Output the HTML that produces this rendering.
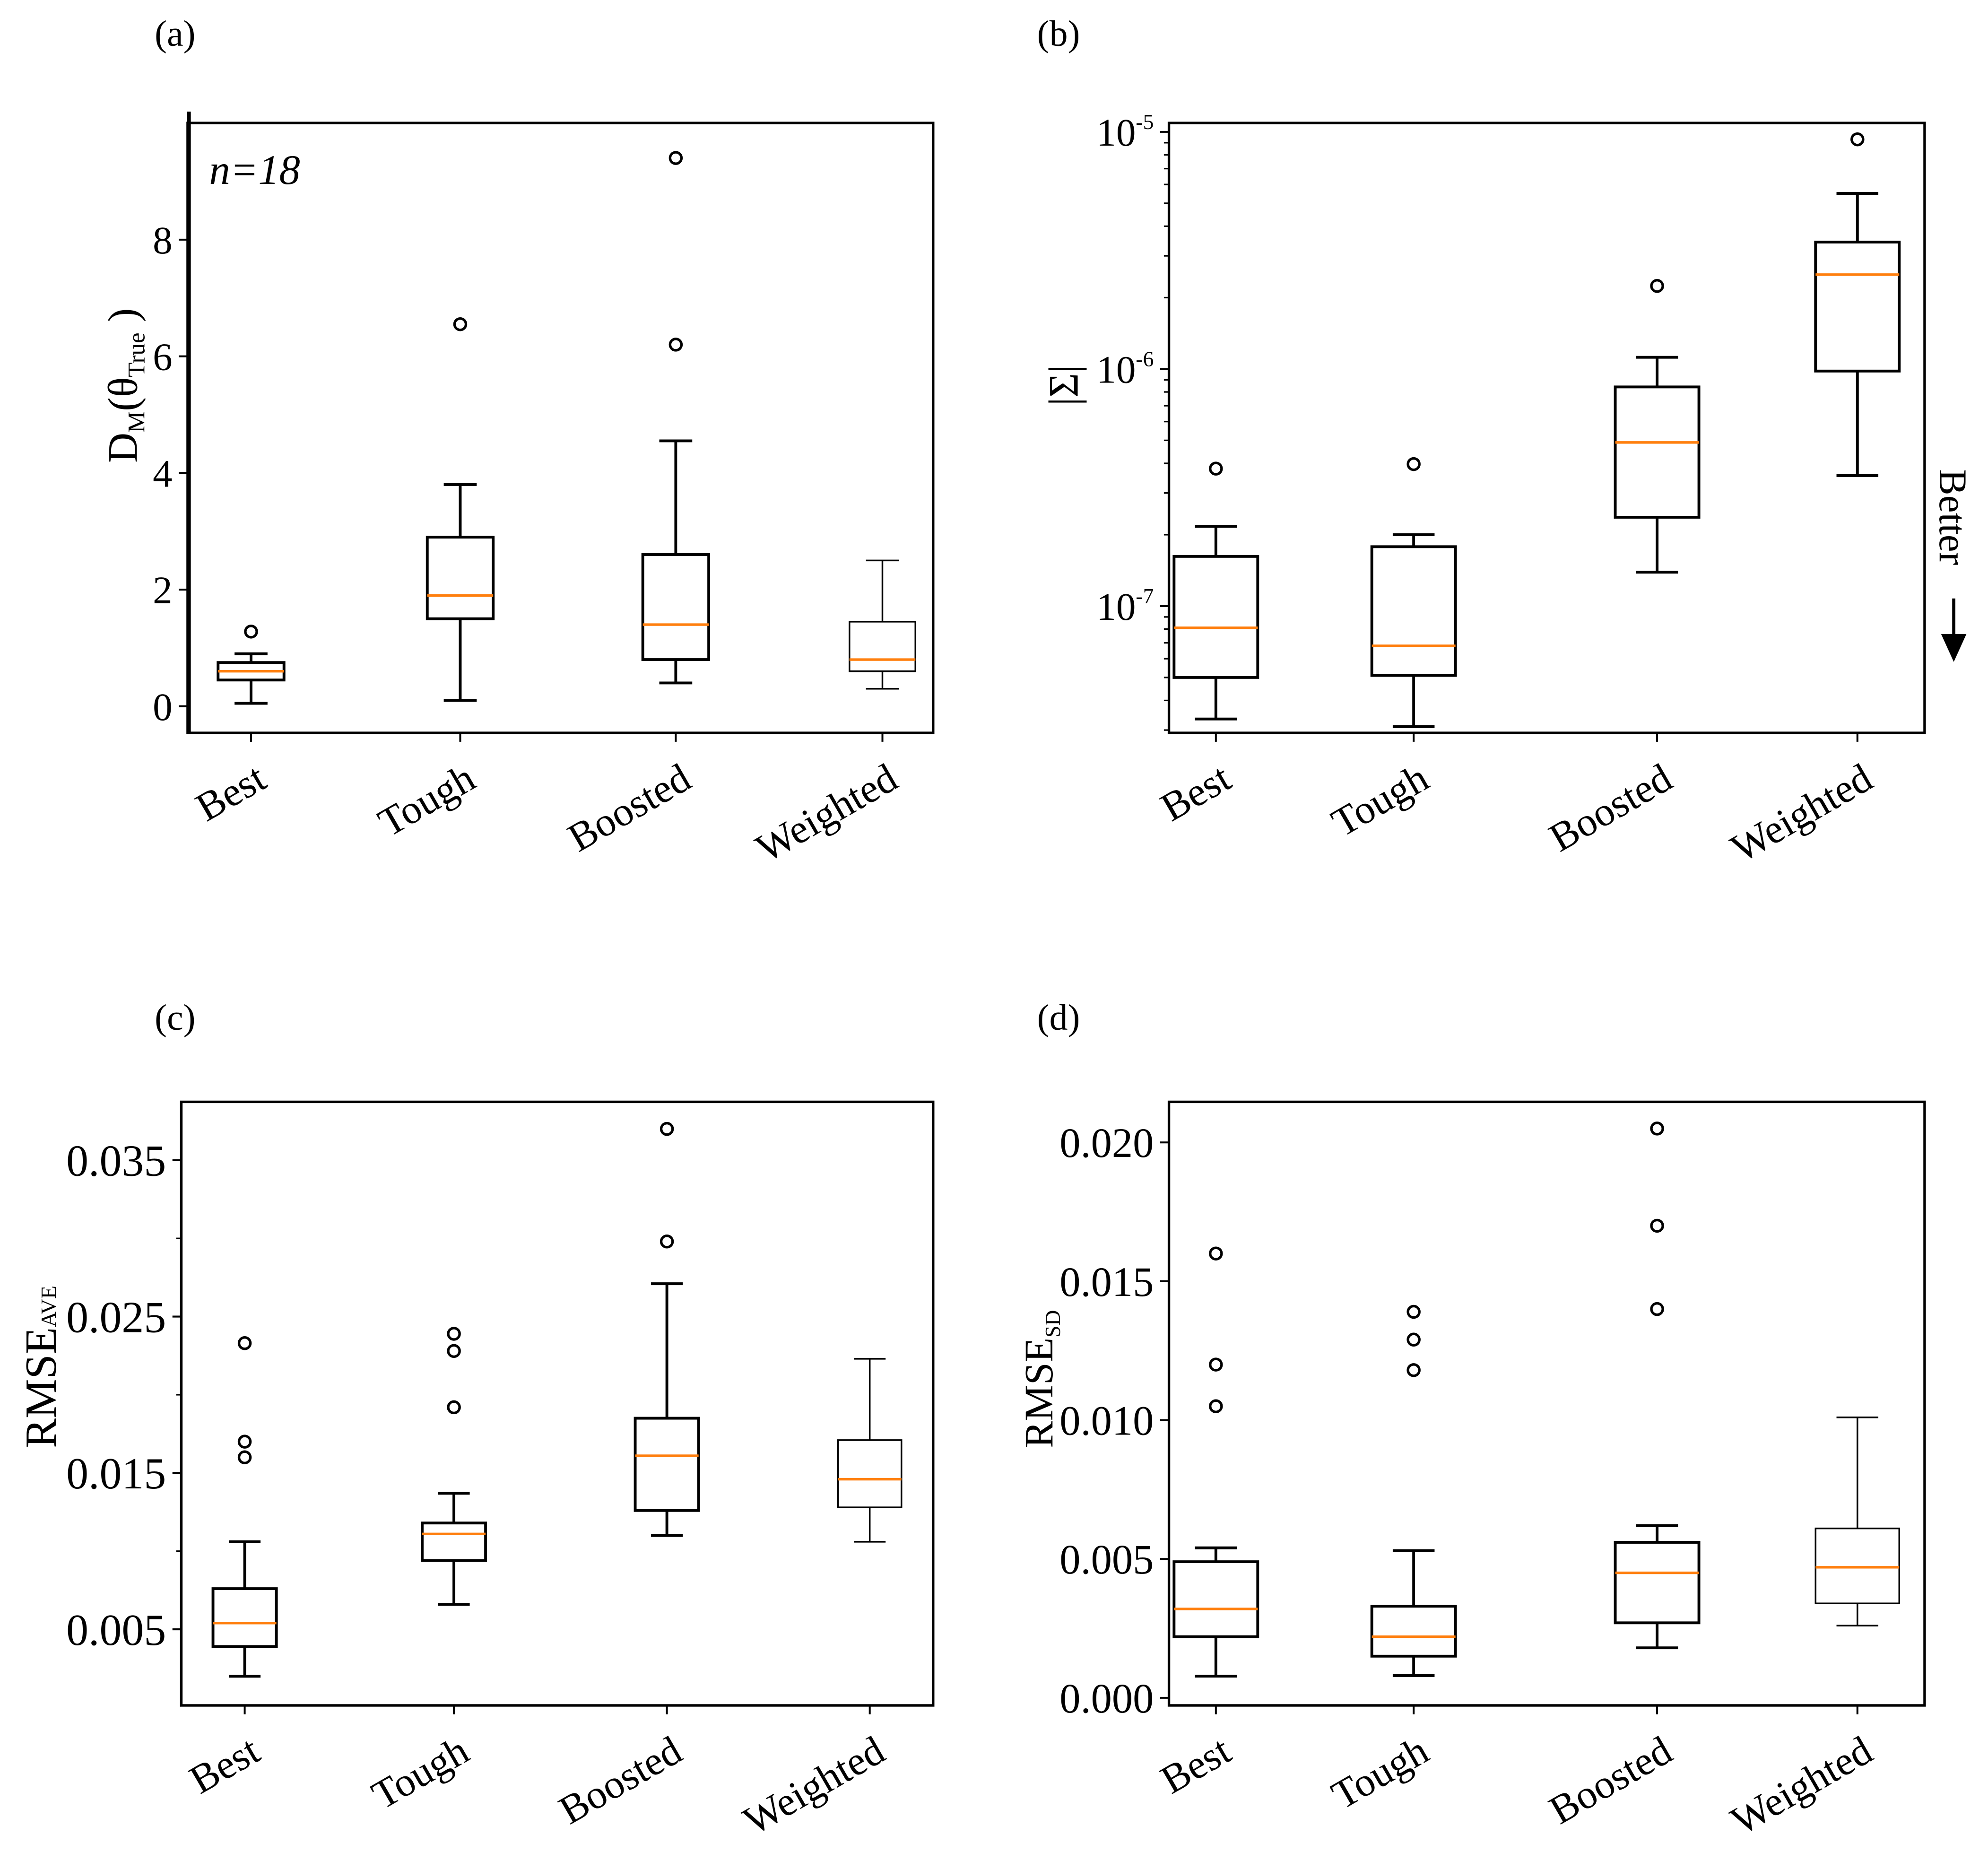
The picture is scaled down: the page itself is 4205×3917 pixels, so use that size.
<!DOCTYPE html>
<html><head><meta charset="utf-8"><style>
html,body{margin:0;padding:0;background:#fff}
svg{display:block}
text{font-family:"Liberation Serif",serif;fill:#000}
</style></head><body>
<svg id="fig" width="4205" height="3917" viewBox="0 0 1568 1460.6" xmlns="http://www.w3.org/2000/svg">
<rect width="1568" height="1461" fill="#fff"/>
</svg>
<script>
const categories = ["Best","Tough","Boosted","Weighted"];
// [low whisker, q1, median, q3, high whisker]
const statsA = [[0.05,0.45,0.6,0.75,0.9],[0.1,1.5,1.9,2.9,3.8],[0.4,0.8,1.4,2.6,4.55],[0.3,0.6,0.8,1.45,2.5]];
const outliersA = [[1.28],[6.55],[6.2,9.4],[]];
const statsB = [[3.34e-8,5.0e-8,8.1e-8,1.62e-7,2.17e-7],[3.1e-8,5.1e-8,6.8e-8,1.78e-7,2.0e-7],[1.39e-7,2.37e-7,4.9e-7,8.4e-7,1.12e-6],[3.55e-7,9.8e-7,2.5e-6,3.43e-6,5.5e-6]];
const outliersB = [[3.8e-7],[3.97e-7],[2.24e-6],[9.3e-6]];
const statsC = [[0.002,0.0039,0.0054,0.0076,0.0106],[0.0066,0.0094,0.0111,0.0118,0.0137],[0.011,0.0126,0.0161,0.0185,0.0271],[0.0106,0.0128,0.0146,0.0171,0.0223]];
const outliersC = [[0.0233,0.017,0.016],[0.0239,0.0228,0.0192],[0.037,0.0298],[]];
const statsD = [[0.00078,0.0022,0.0032,0.0049,0.0054],[0.0008,0.0015,0.0022,0.0033,0.0053],[0.0018,0.0027,0.0045,0.0056,0.0062],[0.0026,0.0034,0.0047,0.0061,0.0101]];
const outliersD = [[0.016,0.012,0.0105],[0.0139,0.0129,0.0118],[0.0205,0.017,0.014],[]];
const ticksA = [0,2,4,6,8];
const ticksC = [0.005,0.015,0.025,0.035];
const ticksD = [0,0.005,0.01,0.015,0.02];
const ticksDLabels = ["0.000","0.005","0.010","0.015","0.020"];

const svg = document.getElementById('fig');
const NS = "http://www.w3.org/2000/svg";
function mk(tag, attrs, parent){const e=document.createElementNS(NS,tag);for(const k in attrs)e.setAttribute(k,attrs[k]);(parent||svg).appendChild(e);return e;}

function panel(cfg){
  const g = mk('g',{});
  
  
  const {x0,x1,y0,y1,xs,yScale,bw,stats,outs,thinLast} = cfg;
  const fs=cfg.tickFont||30;
  cfg.ticks.forEach((t,i)=>{
    const y=yScale(t);
    const tk=mk('line',{x1:x0-7,x2:x0,y1:y,y2:y,stroke:'#000','stroke-width':1.5},g);
    
    
    const tx=mk('text',{x:x0-12,y:y+fs*0.35,'text-anchor':'end','font-size':fs},g);
    
    
    if(cfg.tickHTML){tx.innerHTML=cfg.tickHTML[i];} else tx.textContent=cfg.tickLabels?cfg.tickLabels[i]:t;
  });
  (cfg.minor||[]).forEach(t=>{const y=yScale(t);mk('line',{x1:x0-4,x2:x0,y1:y,y2:y,stroke:'#000','stroke-width':1.2},g);});
  stats.forEach((s,i)=>{
    const cx=xs[i], sw=(thinLast&&i===3)?1.3:2.2;
    const bg=mk('g',{},g);
    
    
    const [lo,q1,md,q3,hi]=s.map(yScale);
    mk('line',{x1:cx,x2:cx,y1:lo,y2:q1,stroke:'#000','stroke-width':sw},bg);
    mk('line',{x1:cx,x2:cx,y1:q3,y2:hi,stroke:'#000','stroke-width':sw},bg);
    mk('line',{x1:cx-bw/4,x2:cx+bw/4,y1:lo,y2:lo,stroke:'#000','stroke-width':sw},bg);
    mk('line',{x1:cx-bw/4,x2:cx+bw/4,y1:hi,y2:hi,stroke:'#000','stroke-width':sw},bg);
    mk('rect',{x:cx-bw/2,y:q3,width:bw,height:q1-q3,fill:'none',stroke:'#000','stroke-width':sw},bg);
    mk('line',{x1:cx-bw/2,x2:cx+bw/2,y1:md,y2:md,stroke:'#ff7f0e','stroke-width':2},bg);
    outs[i].forEach(o=>{const c=mk('circle',{cx:cx,cy:yScale(o),r:4.5,fill:'none',stroke:'#000','stroke-width':2},bg);
      });
    const lb=mk('text',{x:0,y:0,'text-anchor':'end','font-size':32,transform:`translate(${cx+14},${y1+42}) rotate(-30)`},g);
    
    
    lb.textContent=categories[i];
    mk('line',{x1:cx,x2:cx,y1:y1,y2:y1+7,stroke:'#000','stroke-width':1.5},g);
  });
  const fr=mk('rect',{x:x0,y:y0,width:x1-x0,height:y1-y0,fill:'none',stroke:'#000','stroke-width':2},g);
  
  
  const pl=mk('text',{x:cfg.lx,y:cfg.ly,'font-size':29},g);
  
  
  pl.textContent=cfg.label;
  return g;
}
const lin=(v0,p0,v1,p1)=>v=>p0+(v-v0)*(p1-p0)/(v1-v0);

const gA=panel({name:'panel-a',x0:148,x1:736,y0:97,y1:578,xs:[198,363,533,696],bw:52,yScale:lin(0,557,8,189),
  stats:statsA,outs:outliersA,ticks:ticksA,tickFont:31,thinLast:true,label:'(a)',lx:122,ly:36});
mk('line',{x1:149,x2:149,y1:88,y2:578,stroke:'#000','stroke-width':3},gA);
const n=mk('text',{x:165,y:145,'font-size':33,'font-style':'italic'},gA);


n.textContent='n=18';
const ya=mk('text',{x:0,y:0,'font-size':33,transform:'translate(108,365) rotate(-90)'},gA);


ya.innerHTML='D<tspan font-size="19" dy="6">M</tspan><tspan dy="-6">(θ</tspan><tspan font-size="19" dy="6">True</tspan><tspan dy="-6"> )</tspan>';

const logS=v=>478-(Math.log10(v)+7)*187;
const gB=panel({name:'panel-b',x0:922,x1:1518,y0:97,y1:578,xs:[959,1115,1307,1465],bw:66,yScale:logS,
  stats:statsB,outs:outliersB,ticks:[1e-7,1e-6,1e-5],tickFont:31,tickHTML:['10<tspan font-size="17" dy="-13">-7</tspan>','10<tspan font-size="17" dy="-13">-6</tspan>','10<tspan font-size="17" dy="-13">-5</tspan>'],
  minor:[3e-8,4e-8,5e-8,6e-8,7e-8,8e-8,9e-8,2e-7,3e-7,4e-7,5e-7,6e-7,7e-7,8e-7,9e-7,2e-6,3e-6,4e-6,5e-6,6e-6,7e-6,8e-6,9e-6],label:'(b)',lx:818,ly:36});
const yb=mk('text',{x:0,y:0,'font-size':33,transform:'translate(850,320) rotate(-90)'},gB);


yb.textContent='|Σ|';
const bt=mk('text',{x:0,y:0,'font-size':31,transform:'translate(1530,370) rotate(90)'},gB);


bt.textContent='Better';
mk('line',{x1:1541,x2:1541,y1:472,y2:505,stroke:'#000','stroke-width':2.5},gB);
mk('polygon',{points:'1531,500 1551,500 1541,522',fill:'#000'},gB);

const gC=panel({name:'panel-c',x0:143,x1:736,y0:869,y1:1345,xs:[193,358,526,686],bw:50,yScale:lin(0.005,1285,0.035,915),
  stats:statsC,outs:outliersC,ticks:ticksC,tickLabels:['0.005','0.015','0.025','0.035'],tickFont:35,minor:[0.01,0.02,0.03],thinLast:true,label:'(c)',lx:122,ly:812});
const yc=mk('text',{x:0,y:0,'font-size':35,transform:'translate(44,1142) rotate(-90)'},gC);


yc.innerHTML='RMSE<tspan font-size="17">AVE</tspan>';

const gD=panel({name:'panel-d',x0:922,x1:1518,y0:869,y1:1345,xs:[959,1115,1307,1465],bw:66,yScale:lin(0,1339,0.02,901),
  stats:statsD,outs:outliersD,ticks:ticksD,tickLabels:ticksDLabels,tickFont:33,thinLast:true,label:'(d)',lx:818,ly:812});
const yd=mk('text',{x:0,y:0,'font-size':32,transform:'translate(830,1142) rotate(-90)'},gD);


yd.innerHTML='RMSE<tspan font-size="17" dy="6">SD</tspan>';
</script>
</body></html>
